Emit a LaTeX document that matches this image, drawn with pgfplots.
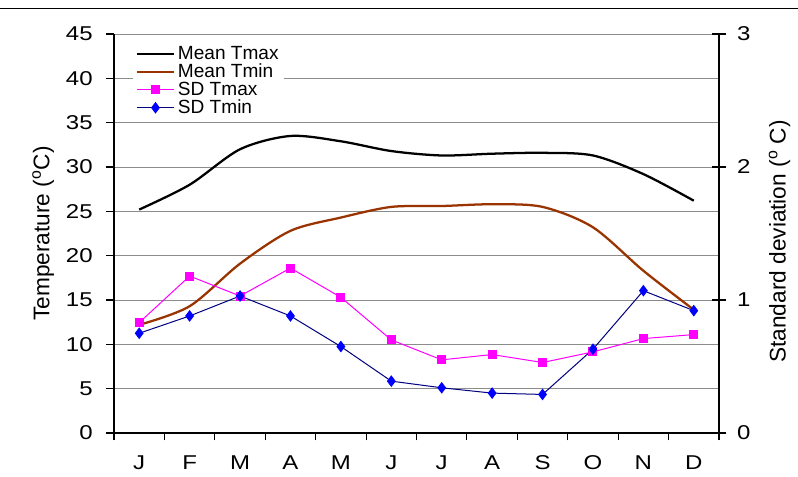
\documentclass[border=0pt]{standalone}
\usepackage{pgfplots}
\pgfplotsset{compat=1.18}
\usepackage{fontspec}
\setmainfont{Liberation Sans}
\newfontfamily\widefam[FakeStretch=1.2]{Liberation Sans}
\definecolor{tminc}{RGB}{153,51,0}
\definecolor{sdmax}{RGB}{255,0,255}
\definecolor{sdminl}{RGB}{0,0,128}
\definecolor{sdminm}{RGB}{0,0,255}
\definecolor{gridc}{RGB}{140,140,140}
\newcommand{\tickfont}{\widefam\fontsize{15}{18}\selectfont}
\newcommand{\labfont}{\fontsize{17}{20}\selectfont}

\pgfplotstableread{
m tmax tmin sdmax sdmin
0 25.2 12.2 0.83 0.75
1 28.0 14.3 1.18 0.88
2 32.0 19.1 1.03 1.03
3 33.5 22.8 1.24 0.88
4 32.9 24.3 1.02 0.65
5 31.8 25.5 0.70 0.39
6 31.3 25.6 0.55 0.34
7 31.5 25.8 0.59 0.30
8 31.6 25.5 0.53 0.29
9 31.3 23.2 0.61 0.63
10 29.2 18.3 0.71 1.07
11 26.2 13.9 0.74 0.92
}\datatable

\begin{document}
\begin{tikzpicture}
\useasboundingbox (0,0) rectangle (598.5pt,357pt);
\draw[line width=0.9pt] (0,350.6pt) -- (598.5pt,350.6pt);
\pgfplotsset{
  myaxis/.style={
    at={(85.5pt,32.25pt)}, anchor=south west,
    scale only axis, width=453.75pt, height=299.25pt,
    xmin=-0.5, xmax=11.5,
    /pgf/number format/assume math mode=true,
    axis line style={line width=0.9pt, black},
    every tick/.style={black, line width=0.8pt},
  }
}
\begin{axis}[myaxis,
  ymin=0, ymax=45, ytick={0,5,...,45},
  axis x line*=bottom, axis y line*=left,
  xtick={0,...,11},
  xticklabels={J,F,M,A,M,J,J,A,S,O,N,D},
  major x tick style={draw=none},
  minor xtick={-0.5,0.5,...,11.5},
  tick align=outside,
  major tick length=6pt, minor tick length=5.5pt,
  xticklabel style={yshift=-7.5pt, font=\tickfont},
  yticklabel style={xshift=-6.5pt, font=\tickfont},
  ymajorgrids, grid style={gridc, line width=0.6pt},
  ylabel={Temperature (\textsuperscript{o}C)},
  ylabel style={at={(axis description cs:-0.117,0.50)}, anchor=center, font=\labfont},
  legend cell align=left,
  legend style={at={(axis description cs:0.031,0.982)}, anchor=north west,
    draw=none, fill=white, font=\fontsize{14.3}{15}\selectfont,
    row sep=-2.3pt, inner sep=2pt},
  legend image code/.code={
    \draw[#1] (0pt,0pt) -- (28pt,0pt);
    \draw[#1, draw=none, fill=none] plot coordinates {(14pt,0pt)};
  },
]
\addplot[black, line width=1.7pt, smooth] table[x=m, y=tmax] {\datatable};
\addlegendentry{Mean Tmax}
\addplot[tminc, line width=1.7pt, smooth] table[x=m, y=tmin] {\datatable};
\addlegendentry{Mean Tmin}
\addlegendimage{sdmax, line width=0.75pt, mark=square*, mark size=3pt, mark options={fill=sdmax, draw=sdmax}}
\addlegendentry{SD Tmax}
\addlegendimage{sdminl, line width=0.75pt, mark=diamond*, mark size=3.8pt, mark options={fill=sdminm, draw=sdminm}}
\addlegendentry{SD Tmin}
\end{axis}
\begin{axis}[myaxis,
  ymin=0, ymax=3, ytick={0,1,2,3},
  axis x line=none, axis y line*=right,
  tick align=center, major tick length=11pt,
  yticklabel style={xshift=4.5pt, font=\tickfont},
  ylabel={Standard deviation (\textsuperscript{o} C)},
  ylabel style={at={(axis description cs:1.100,0.48)}, anchor=center, rotate=0, font=\labfont},
]
\addplot[sdmax, line width=0.75pt, mark=square*, mark size=3pt, mark options={fill=sdmax, draw=sdmax}] table[x=m, y=sdmax] {\datatable};
\addplot[sdminl, line width=0.75pt, mark=diamond*, mark size=3.8pt, mark options={fill=sdminm, draw=sdminm}] table[x=m, y=sdmin] {\datatable};
\end{axis}
\end{tikzpicture}
\end{document}
